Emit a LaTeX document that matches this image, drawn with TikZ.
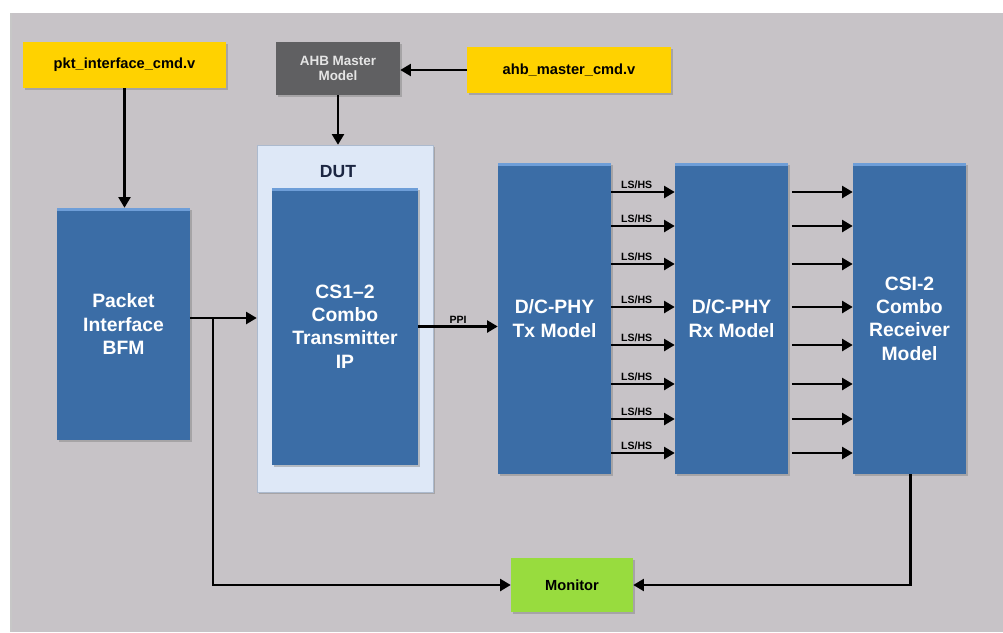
\documentclass[tikz,border=0pt]{standalone}
\usepackage{fontspec}
\setmainfont{Liberation Sans}
\usetikzlibrary{arrows.meta,shadows}

\definecolor{panelgray}{RGB}{199,195,199}
\definecolor{blkblue}{RGB}{59,109,166}
\definecolor{blkhigh}{RGB}{110,158,216}
\definecolor{dutfill}{RGB}{222,232,247}
\definecolor{dutline}{RGB}{172,186,206}
\definecolor{dutink}{RGB}{28,38,66}
\definecolor{cmdyellow}{RGB}{255,210,0}
\definecolor{ahbgray}{RGB}{96,96,98}
\definecolor{mongreen}{RGB}{152,220,62}

\begin{document}
\begin{tikzpicture}[
  x=0.03cm, y=-0.03cm,
  shade/.style={drop shadow={shadow xshift=1.8pt,shadow yshift=-1.8pt,opacity=0.45}},
  blk/.style={rectangle,fill=blkblue,text=white,align=center,inner sep=0pt,shade,
    minimum width=3.39cm,minimum height=9.33cm,font=\bfseries\fontsize{16.5}{20}\selectfont},
  cmd/.style={rectangle,fill=cmdyellow,inner sep=0pt,shade,minimum height=1.38cm,
    font=\bfseries\fontsize{12.5}{14}\selectfont},
  arr/.style={-{Triangle[length=9pt,width=10pt]},line width=2.4pt},
  lbl/.style={font=\bfseries\fontsize{9}{10}\selectfont,inner sep=1.5pt}
]
\useasboundingbox (0,0) rectangle (1003,632);
\fill[white] (0,0) rectangle (1003,632);
\fill[panelgray] (10,13) rectangle (1003,632);
\draw[black!22,line width=1pt] (11,13) -- (11,632);

% stimulus files and AHB side
\node[cmd,minimum width=6.09cm] (pktcmd) at (124.5,65) {pkt\_interface\_cmd.v};
\node[cmd,minimum width=6.12cm] (ahbcmd) at (569,70) {ahb\_master\_cmd.v};
\node[rectangle,fill=ahbgray,text=white!90!black,shade,align=center,inner sep=0pt,
  minimum width=3.72cm,minimum height=1.59cm,font=\bfseries\fontsize{11.5}{12.5}\selectfont]
  (ahbmodel) at (338,68.5) {AHB Master\\Model};

% DUT wrapper
\node[rectangle,fill=dutfill,draw=dutline,shade,minimum width=5.28cm,minimum height=10.41cm]
  (dut) at (345,318.5) {};
\node[font=\bfseries\fontsize{15}{16}\selectfont,text=dutink] (dutlbl) at (338,172) {DUT};

% blocks
\node[blk,minimum width=3.99cm,minimum height=6.96cm] (bfm) at (123.5,324) {Packet\\Interface\\BFM};
\node[blk,minimum width=4.38cm,minimum height=8.31cm] (csitx) at (345,326.5) {CS1–2\\Combo\\Transmitter\\IP};
\node[blk] (phytx) at (554.5,318.5) {D/C-PHY\\Tx Model};
\node[blk] (phyrx) at (731.5,318.5) {D/C-PHY\\Rx Model};
\node[blk] (csirx) at (909.5,318.5) {CSI-2\\Combo\\Receiver\\Model};
\node[rectangle,fill=mongreen,shade,inner sep=0pt,minimum width=3.66cm,minimum height=1.62cm,
  font=\bfseries\fontsize{12.5}{14}\selectfont] (monitor) at (572,585) {Monitor};

\foreach \n in {bfm,csitx,phytx,phyrx,csirx}
  \fill[blkhigh] (\n.north west) rectangle ([yshift=-2.5pt]\n.north east);

% connections
\draw[arr] (pktcmd.south) -- (pktcmd.south |- bfm.north);
\draw[arr] (ahbcmd.west) -- (ahbcmd.west -| ahbmodel.east);
\draw[arr] (ahbmodel.south) -- (ahbmodel.south |- dut.north);

\coordinate (tap) at (213,318);
\draw[arr] (bfm.east |- tap) -- (tap -| dut.west);
\draw[arr] (tap) |- (monitor.west);
\draw[arr] (csitx.east) -- (csitx.east -| phytx.west) node[lbl,midway,above] {PPI};

\foreach \y in {192,226,264,307,345,384,419,453}{
  \coordinate (lane) at (0,\y);
  \draw[arr] (phytx.east |- lane) -- (phyrx.west |- lane) node[lbl,pos=0.4,above] {LS/HS};
  \draw[arr] ([xshift=3pt]phyrx.east |- lane) -- (csirx.west |- lane);
}

\draw[arr] ([xshift=1pt]csirx.south) |- (monitor.east);
\end{tikzpicture}
\end{document}
